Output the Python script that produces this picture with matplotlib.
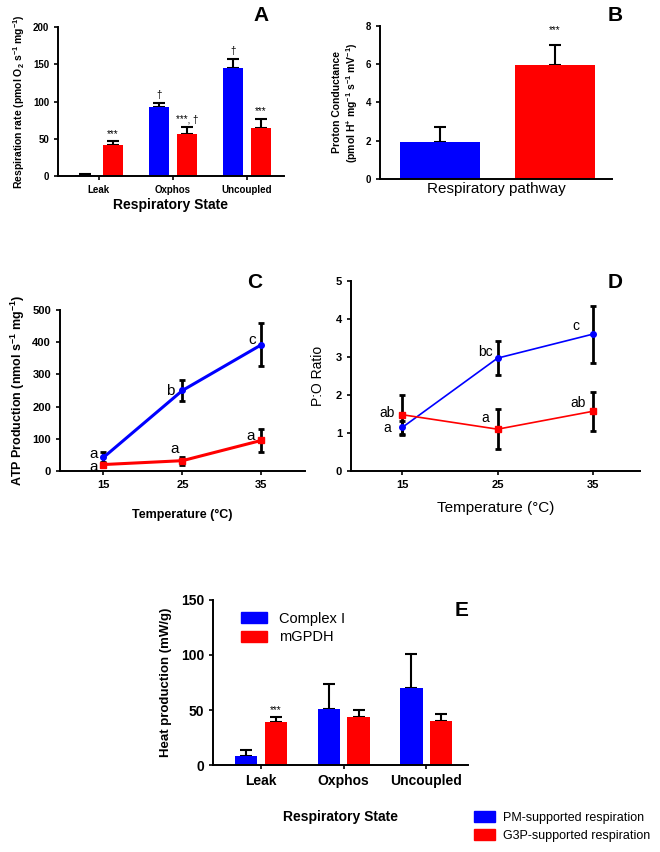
import matplotlib
matplotlib.use("Agg")
import matplotlib.pyplot as plt
import numpy as np
from matplotlib.patches import Patch

plt.rcParams['font.family'] = ['Liberation Sans', 'DejaVu Sans']
# superscripts in the axis labels should look like the bold Arial text around them
plt.rcParams['mathtext.fontset'] = 'custom'
plt.rcParams['mathtext.rm'] = 'Liberation Sans:bold'
plt.rcParams['mathtext.it'] = 'Liberation Sans:bold'
plt.rcParams['mathtext.bf'] = 'Liberation Sans:bold'
plt.rcParams['mathtext.default'] = 'rm'

BLUE = '#0000ff'
RED = '#ff0000'

# panel A - respiration rate
states = ['Leak', 'Oxphos', 'Uncoupled']
a_pm = [2, 92, 145]
a_pm_err = [1, 6, 12]
a_g3p = [42, 57, 65]
a_g3p_err = [5, 9, 12]
a_pm_marks = ['', '†', '†']
a_g3p_marks = ['***', '***, †', '***']

# panel B - proton conductance
b_vals = [1.95, 5.95]
b_err = [0.75, 1.05]

# panel C / D - temperature series
temps = [15, 25, 35]
c_pm = [42, 250, 392]
c_pm_err = [18, 32, 66]
c_g3p = [20, 32, 95]
c_g3p_err = [8, 12, 36]
c_pm_lab = ['a', 'b', 'c']
c_g3p_lab = ['a', 'a', 'a']

d_pm = [1.15, 2.97, 3.6]
d_pm_err = [0.17, 0.45, 0.75]
d_g3p = [1.48, 1.1, 1.57]
d_g3p_err = [0.53, 0.52, 0.52]
d_pm_lab = ['a', 'bc', 'c']
d_g3p_lab = ['ab', 'a', 'ab']

# panel E - heat production
e_pm = [8, 51, 70]
e_pm_err = [6, 23, 31]
e_g3p = [39, 44, 40]
e_g3p_err = [5, 6, 6]


def style(ax, fs=7):
    for s in ['top', 'right']:
        ax.spines[s].set_visible(False)
    for s in ['left', 'bottom']:
        ax.spines[s].set_linewidth(1.4)
    ax.tick_params(width=1.2, length=3, labelsize=fs)
    for t in ax.get_yticklabels():
        t.set_fontweight('bold')


def bars(ax, x, vals, errs, color, w):
    ax.bar(x, vals, w, color=color, edgecolor='none', zorder=2)
    ax.errorbar(x, vals, yerr=[np.zeros(len(vals)), errs], fmt='none',
                ecolor='black', elinewidth=1.5, capsize=4, capthick=1.5, zorder=1)


fig = plt.figure(figsize=(6.6, 8.52), dpi=100)

# ---- A
ax = fig.add_axes([0.088, 0.7934, 0.342, 0.1749])
x = np.arange(3)
off, w = 0.19, 0.27
bars(ax, x - off, a_pm, a_pm_err, BLUE, w)
bars(ax, x + off, a_g3p, a_g3p_err, RED, w)
for i in range(3):
    ax.text(x[i] - off, a_pm[i] + a_pm_err[i] + 4, a_pm_marks[i], ha='center', va='bottom', fontsize=7)
    ax.text(x[i] + off, a_g3p[i] + a_g3p_err[i] + 3, a_g3p_marks[i], ha='center', va='bottom', fontsize=7)
ax.set_xlim(-0.55, 2.5)
ax.set_ylim(0, 200)
ax.set_yticks([0, 50, 100, 150, 200])
ax.set_xticks(x)
ax.set_xticklabels(states, fontweight='bold', fontsize=8)
style(ax)
ax.set_ylabel('Respiration rate (pmol O$_2$ s$^{-1}$ mg$^{-1}$)', fontweight='bold', fontsize=7.5)
ax.set_xlabel('Respiratory State', fontweight='bold', fontsize=10, labelpad=2)
fig.text(0.395, 0.982, 'A', fontsize=15, fontweight='bold', ha='center', va='center')

# ---- B
ax = fig.add_axes([0.576, 0.7899, 0.352, 0.1796])
xb = np.arange(2)
bars(ax, xb, b_vals, b_err, [BLUE, RED], 0.69)
ax.text(1, b_vals[1] + b_err[1] + 0.55, '***', ha='center', va='bottom', fontsize=7)
ax.set_xlim(-0.52, 1.5)
ax.set_ylim(0, 8)
ax.set_yticks([0, 2, 4, 6, 8])
ax.set_xticks([])
style(ax)
ax.set_ylabel('Proton Conductance\n(pmol H$^{+}$ mg$^{-1}$ s$^{-1}$ mV$^{-1}$)', fontweight='bold', fontsize=7.5)
ax.set_xlabel('Respiratory pathway', fontsize=11, labelpad=2)
fig.text(0.932, 0.982, 'B', fontsize=15, fontweight='bold', ha='center', va='center')

# ---- C
ax = fig.add_axes([0.0909, 0.4472, 0.371, 0.189])
ax.errorbar(temps, c_pm, yerr=c_pm_err, color=BLUE, lw=2.2, marker='o', ms=4,
            ecolor='black', elinewidth=2, capsize=2.5, capthick=2)
ax.errorbar(temps, c_g3p, yerr=c_g3p_err, color=RED, lw=2.2, marker='s', ms=4,
            ecolor='black', elinewidth=2, capsize=2.5, capthick=2)
# letter positions relative to each point (x in degC, y in data units)
c_pm_off = [(-1.3, 10), (-1.5, -2), (-1.2, 14)]
c_g3p_off = [(-1.3, -8), (-1.0, 36), (-1.4, 14)]
for i in range(3):
    ax.text(temps[i] + c_pm_off[i][0], c_pm[i] + c_pm_off[i][1], c_pm_lab[i],
            ha='center', va='center', fontsize=11)
    ax.text(temps[i] + c_g3p_off[i][0], c_g3p[i] + c_g3p_off[i][1], c_g3p_lab[i],
            ha='center', va='center', fontsize=11)
ax.set_xlim(9.5, 40.5)
ax.set_ylim(0, 500)
ax.set_xticks(temps)
ax.set_yticks([0, 100, 200, 300, 400, 500])
style(ax, fs=8)
for t in ax.get_xticklabels():
    t.set_fontweight('bold')
ax.set_ylabel('ATP Production (nmol s$^{-1}$ mg$^{-1}$)', fontweight='bold', fontsize=9)
ax.set_xlabel('Temperature (°C)', fontweight='bold', fontsize=9, labelpad=14)
fig.text(0.386, 0.668, 'C', fontsize=15, fontweight='bold', ha='center', va='center')

# ---- D
ax = fig.add_axes([0.532, 0.4472, 0.438, 0.223])
ax.errorbar(temps, d_pm, yerr=d_pm_err, color=BLUE, lw=1.2, marker='o', ms=4,
            ecolor='black', elinewidth=2, capsize=2.5, capthick=2)
ax.errorbar(temps, d_g3p, yerr=d_g3p_err, color=RED, lw=1.2, marker='s', ms=4,
            ecolor='black', elinewidth=2, capsize=2.5, capthick=2)
d_pm_off = [(-1.6, -0.02), (-1.3, 0.16), (-1.8, 0.22)]
d_g3p_off = [(-1.6, 0.05), (-1.3, 0.29), (-1.5, 0.22)]
for i in range(3):
    ax.text(temps[i] + d_pm_off[i][0], d_pm[i] + d_pm_off[i][1], d_pm_lab[i],
            ha='center', va='center', fontsize=10)
    ax.text(temps[i] + d_g3p_off[i][0], d_g3p[i] + d_g3p_off[i][1], d_g3p_lab[i],
            ha='center', va='center', fontsize=10)
ax.set_xlim(9.6, 40)
ax.set_ylim(0, 5)
ax.set_xticks(temps)
ax.set_yticks([0, 1, 2, 3, 4, 5])
style(ax, fs=8)
for t in ax.get_xticklabels():
    t.set_fontweight('bold')
ax.set_ylabel('P:O Ratio', fontsize=10, labelpad=8)
ax.set_xlabel('Temperature (°C)', fontsize=11, labelpad=8)
fig.text(0.932, 0.668, 'D', fontsize=15, fontweight='bold', ha='center', va='center')

# ---- E
ax = fig.add_axes([0.3227, 0.1021, 0.386, 0.1937])
off, w = 0.18, 0.27
bars(ax, x - off, e_pm, e_pm_err, BLUE, w)
bars(ax, x + off, e_g3p, e_g3p_err, RED, w)
ax.text(x[0] + off, e_g3p[0] + e_g3p_err[0] + 1, '***', ha='center', va='bottom', fontsize=7)
ax.set_xlim(-0.58, 2.5)
ax.set_ylim(0, 150)
ax.set_yticks([0, 50, 100, 150])
ax.set_xticks(x)
ax.set_xticklabels(states, fontweight='bold', fontsize=10)
style(ax, fs=10)
ax.set_ylabel('Heat production (mW/g)', fontweight='bold', fontsize=9.5, labelpad=6)
ax.set_xlabel('Respiratory State', fontweight='bold', fontsize=10, labelpad=16)
ax.legend(handles=[Patch(color=BLUE, label='Complex I'), Patch(color=RED, label='mGPDH')],
          loc='upper left', bbox_to_anchor=(0.07, 0.99), frameon=False, fontsize=10.5,
          handlelength=1.8, handleheight=0.8, labelspacing=0.3, borderpad=0.2)
fig.text(0.7, 0.284, 'E', fontsize=15, fontweight='bold', ha='center', va='center')

# shared legend
fig.legend(handles=[Patch(color=BLUE, label='PM-supported respiration'),
                    Patch(color=RED, label='G3P-supported respiration')],
           loc='lower right', bbox_to_anchor=(1.0, 0.0), frameon=False, fontsize=9,
           handlelength=1.7, handleheight=1.0, handletextpad=0.6,
           labelspacing=0.4, borderpad=0.3)

fig.savefig('out.png', dpi=100)
